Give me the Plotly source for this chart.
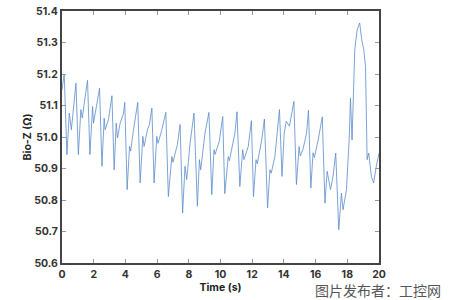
import plotly.graph_objects as go

time_s = [0.00, 0.14, 0.31, 0.46, 0.59, 0.69, 0.80, 0.88, 1.03, 1.19, 1.28, 1.42, 1.61, 1.76, 1.93, 1.99,
          2.20, 2.37, 2.52, 2.66, 2.72, 2.93, 3.15, 3.29, 3.42, 3.50, 3.67, 3.88, 3.96, 4.11, 4.26, 4.33,
          4.51, 4.78, 4.93, 5.10, 5.18, 5.39, 5.52, 5.67, 5.81, 5.98, 6.06, 6.30, 6.55, 6.71, 6.93, 7.00,
          7.28, 7.45, 7.61, 7.76, 7.87, 8.08, 8.33, 8.54, 8.67, 8.75, 9.02, 9.27, 9.45, 9.59, 9.66, 9.92,
          10.14, 10.27, 10.49, 10.56, 10.91, 11.04, 11.22, 11.40, 11.48, 11.75, 11.95, 12.08, 12.24, 12.32,
          12.60, 12.77, 12.97, 13.12, 13.20, 13.43, 13.72, 13.88, 14.02, 14.15, 14.35, 14.63, 14.79, 14.96,
          15.03, 15.20, 15.43, 15.55, 15.70, 15.84, 15.92, 16.16, 16.42, 16.59, 16.73, 16.94, 17.10, 17.27,
          17.46, 17.63, 17.73, 17.95, 18.05, 18.12, 18.20, 18.30, 18.47, 18.62, 18.78, 18.91, 19.04, 19.15,
          19.25, 19.35, 19.52, 19.66, 19.83, 20.00]
bio_z = [51.150, 51.200, 50.944, 51.076, 51.023, 51.087, 51.130, 51.171, 50.944, 51.087, 51.060, 51.113, 51.180, 50.944, 51.097, 51.044,
         51.108, 51.155, 50.907, 51.060, 51.023, 51.055, 51.131, 50.896, 51.044, 50.997, 51.044, 51.075, 51.110, 50.833, 50.970, 50.955,
         51.023, 51.110, 50.854, 51.002, 50.970, 51.023, 51.040, 51.092, 50.854, 51.002, 50.980, 51.023, 51.078, 50.811, 50.938, 50.920,
         50.976, 51.040, 50.759, 50.907, 50.865, 50.980, 51.076, 50.780, 50.928, 50.896, 51.012, 51.078, 50.817, 50.960, 50.945, 50.986,
         51.065, 50.820, 50.938, 50.925, 51.012, 51.080, 50.843, 50.960, 50.928, 50.970, 51.052, 50.811, 50.928, 50.915,
         50.990, 51.057, 50.775, 50.896, 50.885, 50.938, 51.087, 50.875, 51.012, 51.050, 51.034, 51.113, 50.849, 50.970,
         50.940, 50.960, 51.012, 51.085, 50.838, 50.950, 50.935, 50.990, 51.064, 50.790, 50.891, 50.833, 50.875, 50.949,
         50.706, 50.822, 50.769, 50.833, 50.930, 50.991, 51.124, 50.991, 51.277, 51.340, 51.362, 51.309, 51.277, 51.224,
         50.928, 50.949, 50.875, 50.854, 50.907, 50.949]

x_ticks = [0, 2, 4, 6, 8, 10, 12, 14, 16, 18, 20]
y_ticks = [50.6, 50.7, 50.8, 50.9, 51.0, 51.1, 51.2, 51.3, 51.4]

fig = go.Figure()
fig.add_trace(go.Scatter(x=time_s, y=bio_z, mode="lines",
                         line=dict(color="#5a8ccb", width=0.8), showlegend=False))

tickfont = dict(family="Inter", size=10.5, color="#333333", weight=700)
axis_common = dict(showgrid=False, zeroline=False, showline=True, linecolor="#444444", linewidth=2,
                   mirror="ticks", ticks="inside", ticklen=4, tickcolor="#999999", tickwidth=1,
                   tickfont=tickfont, automargin=False)

fig.update_layout(
    width=454, height=300,
    margin=dict(l=62, r=75, t=11, b=37, autoexpand=False),
    paper_bgcolor="white", plot_bgcolor="white",
    xaxis=dict(range=[0, 20], tickvals=x_ticks, ticktext=[str(v) for v in x_ticks],
               title=dict(text="Time (s)", font=dict(family="Inter", size=10.5, color="#222222", weight=700),
                          standoff=4),
               **axis_common),
    yaxis=dict(range=[50.6, 51.4], tickvals=y_ticks, ticktext=[f"{v:.1f}" for v in y_ticks],
               title=dict(text="Bio-Z (Ω)", font=dict(family="Inter", size=10.5, color="#222222", weight=700),
                          standoff=1),
               **axis_common),
    annotations=[dict(text="图片发布者：工控网", xref="paper", yref="paper", x=1.0, y=0,
                      xanchor="left", yanchor="middle", xshift=-65, yshift=-27, showarrow=False,
                      borderpad=0,
                      font=dict(family="Noto Sans CJK SC", size=14, color="#555555"))],
)

fig.write_html("out.html")
